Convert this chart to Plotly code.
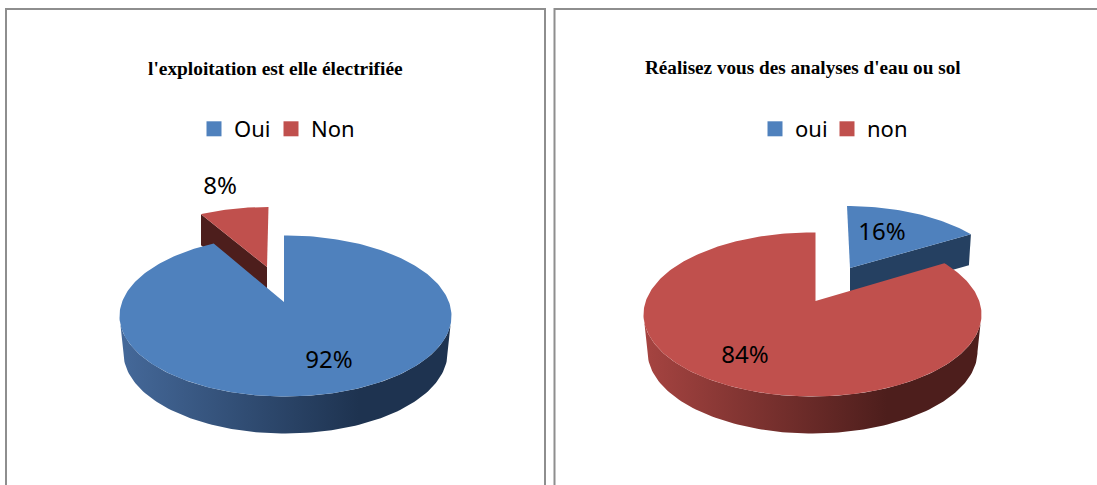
import math
import plotly.graph_objects as go

# --- data ---
title_a = "l'exploitation est elle électrifiée"
labels_a = ["Oui", "Non"]
values_a = [92, 8]
title_b = "Réalisez vous des analyses d'eau ou sol"
labels_b = ["oui", "non"]
values_b = [16, 84]

BLUE = "#4f81bd"
RED = "#c0504d"
BLUE_SIDE = [[0, "#45699a"], [0.72, "#1e3350"], [1, "#1e3350"]]
RED_SIDE = [[0, "#a64441"], [0.72, "#4d1e1c"], [1, "#4d1e1c"]]
BLUE_DARK = "#254061"
RED_DARK = "#4d1e1c"
LABEL_FONT = "Noto Sans"
TITLE_FONT = "Liberation Serif"
FORESHORTEN = 0.89
SLICE_SCALE_X, SLICE_SCALE_Y = 0.94, 0.92
DEPTH = 37
SLICE_DEPTH = 31


def pt(cx, cy, rx, ry, a):
    r = math.radians(a)
    return cx + rx * math.sin(r), cy - ry * math.cos(r)


def poly(pts, color=None, gradient=None):
    kw = dict(fillgradient=dict(type="horizontal", colorscale=gradient)) if gradient else dict(fillcolor=color)
    return go.Scatter(
        x=[p[0] for p in pts] + [pts[0][0]],
        y=[p[1] for p in pts] + [pts[0][1]],
        mode="lines", fill="toself",
        line=dict(width=0),
        hoverinfo="skip", showlegend=False, **kw,
    )


def arc(cx, cy, rx, ry, a0, a1, n=120):
    return [pt(cx, cy, rx, ry, a0 + (a1 - a0) * i / n) for i in range(n + 1)]


def draw_pie(fig, cx, cy, rx, ry, apex, slice_apex, a0, a1,
             main_color, main_side, slice_color, slice_dark):
    """Main piece spans a1..a0+360 clockwise; exploded piece spans a0..a1."""
    off_x, off_y = slice_apex[0] - apex[0], slice_apex[1] - apex[1]
    sx, sy = cx + off_x, cy + off_y
    srx, sry = rx * SLICE_SCALE_X, ry * SLICE_SCALE_Y
    top_arc = arc(sx, sy, srx, sry, a0, a1, 40)
    # exploded slice: walls, then top
    if a1 > 0:
        far = top_arc[-1]
        edge = [slice_apex, far, (far[0] - 2, far[1] + SLICE_DEPTH),
                (slice_apex[0], slice_apex[1] + SLICE_DEPTH)]
    else:
        far = top_arc[0]
        edge = [far, slice_apex, (slice_apex[0], slice_apex[1] + SLICE_DEPTH),
                (far[0], far[1] + SLICE_DEPTH)]
    fig.add_trace(poly(edge, slice_dark))
    fig.add_trace(poly([slice_apex] + top_arc, slice_color))
    # main piece: curved wall with a horizontal gradient, then top
    wall = arc(cx, cy, rx, ry, 90, 270, 120) + arc(cx, cy + DEPTH, rx - 4, ry, 270, 90, 120)
    fig.add_trace(poly(wall, gradient=main_side))
    # the vertical cut edge of the main piece stays directly above its apex
    seam = math.degrees(math.asin((apex[0] - cx) / rx))
    start = seam if a1 == 0 else a1
    end = seam + 360 if a0 == 0 else a0 + 360
    fig.add_trace(poly([apex] + arc(cx, cy, rx, ry, start, end, 300), main_color))


fig = go.Figure()

# pie A: small exploded slice sits just left of 12 o'clock
small_a = values_a[1] / sum(values_a) * 360 * FORESHORTEN
draw_pie(fig, 285.5, 316, 166, 80.5, (284, 302), (267, 267), -small_a, 0,
         BLUE, BLUE_SIDE, RED, RED_DARK)
# pie B: small exploded slice sits just right of 12 o'clock
small_b = values_b[0] / sum(values_b) * 360 * FORESHORTEN
draw_pie(fig, 812.5, 314.5, 169, 82, (815.5, 301), (850, 268), 0, small_b,
         RED, RED_SIDE, BLUE, BLUE_DARK)

# value labels
lab_x = [329, 220, 882, 745]
lab_y = [362, 188, 234, 357]
lab_v = [values_a[0], values_a[1], values_b[0], values_b[1]]
fig.add_trace(go.Scatter(
    x=lab_x, y=lab_y, text=[f"{v}%" for v in lab_v], mode="text",
    textfont=dict(family=LABEL_FONT, size=24, color="#000000"),
    hoverinfo="skip", showlegend=False,
))

# legends: one per entry so each key sits where it does in the picture
legend_ids = ["legend", "legend2", "legend3", "legend4"]
legend_names = labels_a + labels_b
legend_cols = [BLUE, RED, BLUE, RED]
legend_left = [194, 271, 755, 827]
for nm, col, lg in zip(legend_names, legend_cols, legend_ids):
    fig.add_trace(go.Scatter(
        x=[None], y=[None], mode="markers", name=nm, legend=lg,
        marker=dict(symbol="square", size=15, color=col),
    ))

legend_common = dict(
    orientation="h", yanchor="middle", xanchor="left", y=1 - 129 / 485,
    font=dict(family=LABEL_FONT, size=22, color="#000000"),
    bgcolor="rgba(0,0,0,0)", borderwidth=0,
)
legend_layout = {lg: dict(x=left / 1097, **legend_common)
                 for lg, left in zip(legend_ids, legend_left)}

panel = dict(type="rect", xref="x", yref="y", line=dict(color="#8e8e8e", width=2),
             fillcolor="rgba(0,0,0,0)", layer="below")

fig.update_layout(
    width=1097, height=485, margin=dict(l=0, r=0, t=0, b=0),
    paper_bgcolor="#ffffff", plot_bgcolor="#ffffff",
    xaxis=dict(range=[0, 1097], visible=False, fixedrange=True),
    yaxis=dict(range=[485, 0], visible=False, fixedrange=True),
    shapes=[
        dict(x0=6, x1=545, y0=9, y1=500, **panel),
        dict(x0=554.5, x1=1120, y0=9, y1=500, **panel),
    ],
    annotations=[
        dict(x=275.5, y=68, xref="x", yref="y", text=f"<b>{title_a}</b>", showarrow=False,
             font=dict(family=TITLE_FONT, size=19.4, color="#000000")),
        dict(x=802.5, y=67, xref="x", yref="y", text=f"<b>{title_b}</b>", showarrow=False,
             font=dict(family=TITLE_FONT, size=19.2, color="#000000")),
    ],
    **legend_layout,
)

fig.write_html("out.html", config={"displayModeBar": False},
               post_script="document.body.style.margin='0';")
